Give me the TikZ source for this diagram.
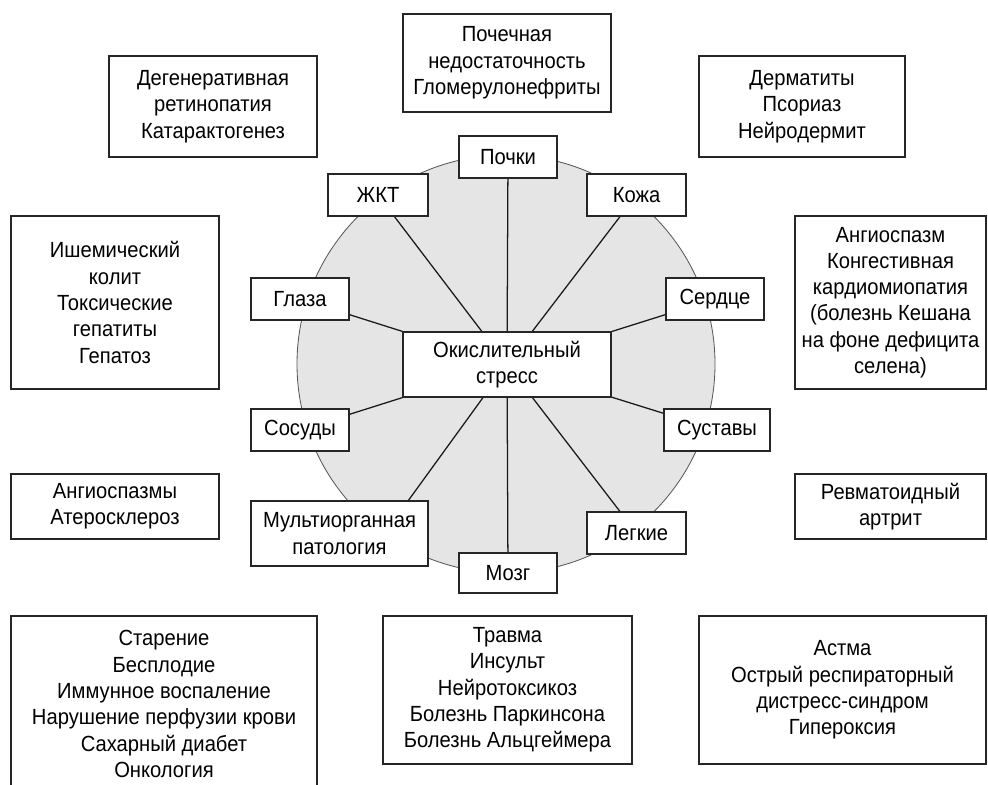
\documentclass[tikz,border=0pt]{standalone}
\usepackage{fontspec}
\setmainfont{Liberation Sans}[FakeStretch=0.92]
\usetikzlibrary{backgrounds}
\tikzset{box/.style={draw=black!85, line width=1.3pt, fill=white, inner sep=0pt,
   align=center, font=\fontsize{15.6}{18.7}\selectfont},
 organ/.style={box, minimum height=1.05cm},
 spoke/.style={draw=black!90, line width=0.9pt},
 disk/.style={fill=black!10, draw=black!65, line width=0.6pt},
 }

\begin{document}
\begin{tikzpicture}[x=0.025cm, y=-0.025cm]
        \useasboundingbox (0,0) rectangle (988,784);
        % centre and organs
        \node[box, minimum width=5.2cm, minimum height=1.625cm] (ox) at (507,364.5) {Окислительный\\стресс};
        \node[organ, minimum width=2.45cm] (kidney) at (508,157) {Почки};
        \node[organ, minimum width=2.5cm] (gi) at (378,195) {ЖКТ};
        \node[organ, minimum width=2.475cm] (skin) at (636.5,195) {Кожа};
        \node[organ, minimum width=2.45cm] (eyes) at (300,299) {Глаза};
        \node[organ, minimum width=2.45cm] (heart) at (715,299) {Сердце};
        \node[organ, minimum width=2.45cm] (vessels) at (300,430) {Сосуды};
        \node[organ, minimum width=2.65cm] (joints) at (717,430) {Суставы};
        \node[box, minimum width=4.425cm, minimum height=1.625cm] (multi) at (339.5,533.5) {Мультиорганная\\патология};
        \node[organ, minimum width=2.475cm] (lungs) at (636.5,533) {Легкие};
        \node[organ, minimum width=2.45cm, minimum height=1cm] (brain) at (508,573) {Мозг};
        \coordinate (multi-end) at (400,512);
        % diseases
        \node[box, minimum width=5.2cm, minimum height=2.525cm] (degen) at (213,106.5) {Дегенеративная\\ретинопатия\\Катарактогенез};
        \node[box, minimum width=5.2cm, minimum height=2.45cm] (renal) at (507,63) {Почечная\\недостаточность\\Гломерулонефриты};
        \node[box, minimum width=5.15cm, minimum height=2.525cm] (derm) at (802,106.5) {Дерматиты\\Псориаз\\Нейродермит};
        \node[box, minimum width=5.2cm, minimum height=4.325cm] (ischem) at (115,302.5) {Ишемический\\колит\\Токсические\\гепатиты\\Гепатоз};
        \node[box, minimum width=4.775cm, minimum height=4.325cm] (cardio) at (890.5,302.5) {Ангиоспазм\\Конгестивная\\кардиомиопатия\\(болезнь Кешана\\на фоне дефицита\\селена)};
        \node[box, minimum width=5.2cm, minimum height=1.625cm] (athero) at (115,506.5) {Ангиоспазмы\\Атеросклероз};
        \node[box, minimum width=4.775cm, minimum height=1.625cm] (rheum) at (890.5,506.5) {Ревматоидный\\артрит};
        \node[box, minimum width=7.65cm, minimum height=4.4cm] (aging) at (164,704) {Старение\\Бесплодие\\Иммунное воспаление\\Нарушение перфузии крови\\Сахарный диабет\\Онкология};
        \node[box, minimum width=6.225cm, minimum height=3.7cm] (trauma) at (507.5,690) {Травма\\Инсульт\\Нейротоксикоз\\Болезнь Паркинсона\\Болезнь Альцгеймера};
        \node[box, minimum width=7.175cm, minimum height=3.7cm] (asthma) at (842.5,690) {Астма\\Острый респираторный\\дистресс-синдром\\Гипероксия};
        \begin{scope}[on background layer]
            \draw[disk] (506,364) circle [radius=209];
            \foreach \o in {kidney, gi, skin, eyes, heart, vessels, joints, lungs, brain} {
                \draw[spoke] (ox.center) -- (\o.center);
            }
            \draw[spoke] (ox.center) -- (multi-end);
        \end{scope}
    \end{tikzpicture}
\end{document}
